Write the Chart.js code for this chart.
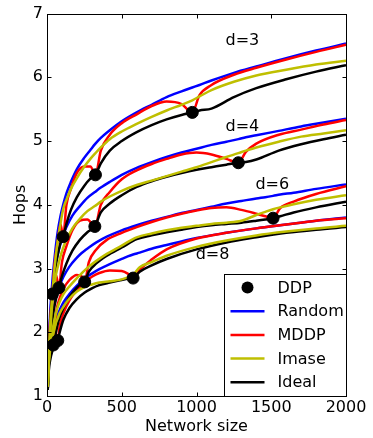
<!DOCTYPE html>
<html>
<head>
<meta charset="utf-8">
<script src="https://cdn.jsdelivr.net/npm/chart.js@4"></script>
<style>
  html, body { margin: 0; padding: 0; background: #fff; }
  #wrap { width: 373px; height: 438px; }
</style>
</head>
<body>
<div id="wrap"><canvas id="hopsChart" width="373" height="438"></canvas></div>
<script>
// d=3
const sizes3 = [5, 12, 20, 36, 50, 70, 90, 108, 130, 160, 200, 250, 290, 324, 360, 420, 500, 600, 700, 800, 900, 972, 1020, 1100, 1250, 1400, 1600, 1800, 2000];
const random3 = [1.2, 1.8, 2.25, 2.8, 3.15, 3.55, 3.82, 4.0, 4.18, 4.36, 4.56, 4.74, 4.86, 4.96, 5.05, 5.17, 5.31, 5.45, 5.57, 5.69, 5.78, 5.84, 5.88, 5.95, 6.07, 6.17, 6.3, 6.42, 6.53];
const mddp3 = [1.2, 1.65, 2.15, 2.6, 3.05, 3.4, 3.7, 3.5, 4.0, 4.25, 4.5, 4.6, 4.6, 4.47, 4.85, 5.1, 5.28, 5.42, 5.55, 5.62, 5.58, 5.45, 5.72, 5.88, 6.04, 6.15, 6.28, 6.4, 6.51];
const imase3 = [1.15, 1.6, 2.05, 2.6, 3.0, 3.4, 3.7, 3.93, 4.08, 4.25, 4.42, 4.6, 4.72, 4.81, 4.9, 5.03, 5.15, 5.27, 5.38, 5.48, 5.57, 5.64, 5.7, 5.8, 5.93, 6.03, 6.12, 6.2, 6.26];
const ideal3 = [1.1, 1.6, 2.05, 2.6, 2.9, 3.2, 3.4, 3.5, 3.7, 3.92, 4.12, 4.3, 4.41, 4.47, 4.65, 4.85, 5.0, 5.14, 5.25, 5.34, 5.41, 5.45, 5.48, 5.51, 5.69, 5.83, 5.97, 6.09, 6.19];

// d=4
const sizes4 = [5, 12, 20, 30, 45, 60, 80, 100, 130, 170, 220, 270, 320, 360, 420, 500, 600, 700, 800, 900, 1000, 1100, 1200, 1280, 1330, 1400, 1550, 1700, 1850, 2000];
const random4 = [1.2, 1.75, 2.15, 2.5, 2.85, 3.08, 3.3, 3.47, 3.65, 3.83, 3.98, 4.11, 4.2, 4.27, 4.36, 4.47, 4.58, 4.67, 4.75, 4.82, 4.88, 4.94, 4.99, 5.03, 5.06, 5.09, 5.16, 5.23, 5.29, 5.35];
const mddp4 = [1.2, 1.6, 1.75, 2.3, 2.75, 2.9, 2.7, 3.1, 3.35, 3.6, 3.75, 3.77, 3.66, 4.0, 4.2, 4.4, 4.54, 4.64, 4.72, 4.79, 4.82, 4.79, 4.72, 4.66, 4.83, 4.96, 5.1, 5.18, 5.26, 5.33];
const imase4 = [1.15, 1.55, 1.9, 2.3, 2.65, 2.9, 3.1, 3.27, 3.45, 3.63, 3.78, 3.9, 3.98, 4.05, 4.13, 4.22, 4.31, 4.38, 4.45, 4.52, 4.59, 4.67, 4.75, 4.81, 4.85, 4.9, 4.99, 5.07, 5.12, 5.17];
const ideal4 = [1.1, 1.5, 1.7, 2.05, 2.35, 2.52, 2.7, 2.88, 3.08, 3.28, 3.45, 3.57, 3.66, 3.88, 4.02, 4.15, 4.28, 4.37, 4.44, 4.5, 4.55, 4.59, 4.63, 4.66, 4.67, 4.71, 4.85, 4.95, 5.03, 5.1];

// d=6
const sizes6 = [5, 12, 20, 30, 42, 60, 80, 110, 150, 200, 230, 252, 280, 330, 400, 500, 600, 700, 800, 900, 1000, 1100, 1200, 1300, 1400, 1460, 1512, 1560, 1650, 1800, 2000];
const random6 = [1.25, 1.7, 1.95, 2.15, 2.35, 2.55, 2.7, 2.87, 3.03, 3.17, 3.24, 3.28, 3.33, 3.41, 3.5, 3.6, 3.68, 3.75, 3.81, 3.87, 3.92, 3.97, 4.02, 4.06, 4.1, 4.12, 4.14, 4.16, 4.19, 4.25, 4.32];
const mddp6 = [1.2, 1.65, 1.9, 1.95, 1.8, 2.3, 2.5, 2.68, 2.82, 2.9, 2.88, 2.79, 3.1, 3.3, 3.45, 3.56, 3.65, 3.73, 3.8, 3.86, 3.91, 3.95, 3.96, 3.92, 3.86, 3.82, 3.79, 3.95, 4.05, 4.17, 4.29];
const imase6 = [1.15, 1.55, 1.75, 1.95, 2.1, 2.3, 2.45, 2.6, 2.72, 2.85, 2.92, 2.97, 3.03, 3.12, 3.23, 3.36, 3.49, 3.55, 3.6, 3.64, 3.67, 3.7, 3.72, 3.75, 3.84, 3.89, 3.93, 3.96, 4.01, 4.08, 4.15];
const ideal6 = [1.1, 1.5, 1.65, 1.72, 1.8, 2.0, 2.2, 2.38, 2.55, 2.7, 2.76, 2.79, 2.95, 3.08, 3.2, 3.33, 3.46, 3.52, 3.57, 3.61, 3.65, 3.68, 3.7, 3.72, 3.75, 3.77, 3.79, 3.82, 3.88, 3.96, 4.05];

// d=8
const sizes8 = [5, 12, 20, 35, 50, 60, 72, 85, 110, 150, 200, 250, 300, 350, 420, 500, 540, 576, 620, 700, 800, 1000, 1200, 1400, 1600, 1800, 2000];
const random8 = [1.3, 1.65, 1.85, 2.0, 2.1, 2.2, 2.28, 2.35, 2.47, 2.6, 2.73, 2.84, 2.92, 2.99, 3.07, 3.15, 3.19, 3.22, 3.25, 3.31, 3.37, 3.48, 3.56, 3.63, 3.69, 3.75, 3.8];
const mddp8 = [1.25, 1.6, 1.8, 1.95, 2.0, 1.97, 1.87, 2.1, 2.3, 2.5, 2.66, 2.78, 2.87, 2.93, 2.97, 2.96, 2.92, 2.85, 2.98, 3.14, 3.3, 3.47, 3.56, 3.63, 3.69, 3.75, 3.79];
const imase8 = [1.15, 1.5, 1.7, 1.9, 2.05, 2.15, 2.22, 2.3, 2.4, 2.53, 2.64, 2.71, 2.75, 2.78, 2.8, 2.83, 2.86, 2.9, 3.02, 3.1, 3.2, 3.34, 3.44, 3.52, 3.58, 3.63, 3.67];
const ideal8 = [1.1, 1.4, 1.55, 1.7, 1.78, 1.83, 1.87, 2.0, 2.2, 2.38, 2.52, 2.62, 2.69, 2.74, 2.78, 2.82, 2.84, 2.85, 2.95, 3.05, 3.15, 3.3, 3.41, 3.49, 3.56, 3.61, 3.65];

// DDP points
const ddpSize = [36, 108, 324, 972, 80, 320, 1280, 42, 252, 1512, 72, 576];
const ddpHops = [2.6, 3.5, 4.47, 5.45, 2.7, 3.66, 4.66, 1.8, 2.79, 3.79, 1.87, 2.85];

const degreeLabels = ["d=3", "d=4", "d=6", "d=8"];
const degreeLabelSize = [1307, 1307, 1507, 1107];
const degreeLabelHops = [6.58, 5.22, 4.32, 3.22];

const xTicks = [0, 500, 1000, 1500, 2000];
const yTicks = [1, 2, 3, 4, 5, 6, 7];

const FONT = "'DejaVu Sans', 'Liberation Sans', sans-serif";
const colors = { Random: "#0000ff", MDDP: "#ff0000", Imase: "#bfbf00", Ideal: "#000000" };
const drawOrder = { Random: 4, MDDP: 3, Ideal: 2, Imase: 1 };

function toPoints(xs, ys) {
  return xs.map((x, i) => ({ x: x, y: ys[i] }));
}

function lineSet(name, xs, ys) {
  return {
    type: "line",
    label: name,
    data: toPoints(xs, ys),
    borderColor: colors[name],
    backgroundColor: colors[name],
    borderWidth: 2.5,
    pointRadius: 0,
    cubicInterpolationMode: "monotone",
    fill: false,
    order: drawOrder[name]
  };
}

const groups = [
  [sizes3, random3, mddp3, imase3, ideal3],
  [sizes4, random4, mddp4, imase4, ideal4],
  [sizes6, random6, mddp6, imase6, ideal6],
  [sizes8, random8, mddp8, imase8, ideal8]
];

const datasets = [];
groups.forEach(g => {
  datasets.push(lineSet("Random", g[0], g[1]));
  datasets.push(lineSet("MDDP", g[0], g[2]));
  datasets.push(lineSet("Imase", g[0], g[3]));
  datasets.push(lineSet("Ideal", g[0], g[4]));
});
datasets.push({
  type: "scatter",
  label: "DDP",
  data: toPoints(ddpSize, ddpHops),
  backgroundColor: "#000",
  borderColor: "#000",
  pointRadius: 6,
  pointHoverRadius: 6,
  order: 0
});

// frame, inward ticks, d= labels and the legend box
const decorations = {
  id: "decorations",
  afterDraw(chart) {
    const ctx = chart.ctx;
    const a = chart.chartArea;
    const xs = chart.scales.x;
    const ys = chart.scales.y;
    const L = Math.round(a.left) + 0.5, R = Math.round(a.right) + 0.5;
    const T = Math.round(a.top) + 0.5, B = Math.round(a.bottom) + 0.5;
    ctx.save();
    ctx.strokeStyle = "#000";
    ctx.lineWidth = 1;
    ctx.beginPath();
    xTicks.forEach(v => {
      const px = Math.round(xs.getPixelForValue(v)) + 0.5;
      ctx.moveTo(px, B); ctx.lineTo(px, B - 4);
      ctx.moveTo(px, T); ctx.lineTo(px, T + 4);
    });
    yTicks.forEach(v => {
      const py = Math.round(ys.getPixelForValue(v)) + 0.5;
      ctx.moveTo(L, py); ctx.lineTo(L + 4, py);
      ctx.moveTo(R, py); ctx.lineTo(R - 4, py);
    });
    ctx.stroke();
    ctx.strokeRect(L, T, R - L, B - T);

    ctx.fillStyle = "#000";
    ctx.font = "16px " + FONT;
    ctx.textAlign = "center";
    ctx.textBaseline = "middle";
    degreeLabels.forEach((t, i) => {
      ctx.fillText(t, xs.getPixelForValue(degreeLabelSize[i]), ys.getPixelForValue(degreeLabelHops[i]));
    });

    // legend
    const w = 122, h = 122;
    const x0 = Math.round(a.right - w) + 0.5, y0 = Math.round(a.bottom - h) + 0.5;
    ctx.fillStyle = "#fff";
    ctx.fillRect(x0, y0, w, h);
    ctx.strokeRect(x0, y0, w, h);
    const entries = ["DDP", "Random", "MDDP", "Imase", "Ideal"];
    ctx.textAlign = "left";
    entries.forEach((name, i) => {
      const cy = y0 + 13 + i * 23.7;
      if (name === "DDP") {
        ctx.fillStyle = "#000";
        ctx.beginPath();
        ctx.arc(x0 + 23, cy, 6, 0, Math.PI * 2);
        ctx.fill();
      } else {
        ctx.strokeStyle = colors[name];
        ctx.lineWidth = 2.5;
        ctx.beginPath();
        ctx.moveTo(x0 + 6, cy);
        ctx.lineTo(x0 + 40, cy);
        ctx.stroke();
      }
      ctx.fillStyle = "#000";
      ctx.fillText(name, x0 + 53, cy + 1);
    });
    ctx.restore();
  }
};

new Chart(document.getElementById("hopsChart").getContext("2d"), {
  type: "line",
  data: { datasets: datasets },
  options: {
    responsive: false,
    animation: false,
    events: [],
    layout: { padding: { top: 11, right: 27, bottom: 1, left: 0 } },
    plugins: { legend: { display: false }, tooltip: { enabled: false } },
    scales: {
      x: {
        type: "linear",
        min: 0,
        max: 2000,
        afterBuildTicks: s => { s.ticks = xTicks.map(v => ({ value: v })); },
        afterFit: s => { s.height = 41; },
        grid: { display: false, drawTicks: false },
        border: { display: false },
        ticks: { color: "#000", padding: 2, maxRotation: 0, font: { family: FONT, size: 16 }, callback: v => String(v) },
        title: { display: true, text: "Network size", color: "#000", padding: { top: 0, bottom: 1 }, font: { family: FONT, size: 16 } }
      },
      y: {
        type: "linear",
        min: 1,
        max: 7,
        afterBuildTicks: s => { s.ticks = yTicks.map(v => ({ value: v })); },
        afterFit: s => { s.width = 47; },
        grid: { display: false, drawTicks: false },
        border: { display: false },
        ticks: { color: "#000", padding: 4, font: { family: FONT, size: 16 }, callback: v => String(v) },
        title: { display: true, text: "Hops", color: "#000", padding: { top: 11, bottom: 0 }, font: { family: FONT, size: 16 } }
      }
    }
  },
  plugins: [decorations]
});
</script>
</body>
</html>
